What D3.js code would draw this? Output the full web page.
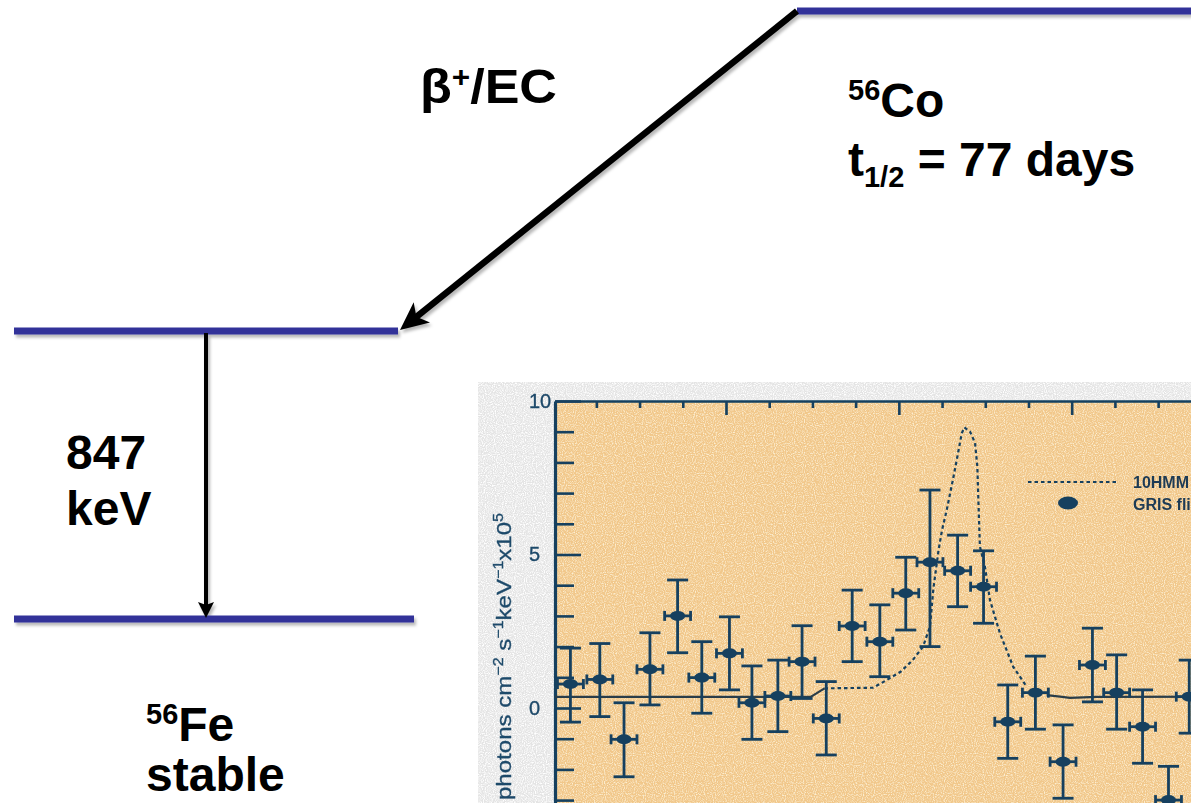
<!DOCTYPE html>
<html>
<head>
<meta charset="utf-8">
<script src="https://cdn.jsdelivr.net/npm/d3@7"></script>
<style>
  html, body { margin: 0; padding: 0; background: #ffffff; overflow: hidden; }
  svg { display: block; font-family: "Liberation Sans", Arial, Helvetica, sans-serif; }
</style>
</head>
<body>
<svg id="chart" width="1191" height="803"></svg>
<script>
// ---- Decay scheme of 56Co -> 56Fe ----
const feLevelEnergies = [0, 847];            // keV, levels of 56Fe
const gammaLineLabel = ["847", "keV"];
const parentLabel = ["56", "Co"];
const halfLife = ["t", "1/2", " = 77 days"];
const daughterLabel = ["56", "Fe"];
const daughterNote = "stable";
const decayMode = ["\u03B2", "+", "/EC"];

// ---- GRIS spectrum around the 847 keV line ----
const binEnergy = [821.0, 822.7, 824.1, 825.6, 827.2, 828.6, 830.2, 831.5, 833.0, 834.4,
                   835.8, 837.3, 838.9, 840.4, 841.8, 843.4, 844.9, 846.3, 847.9, 849.5,
                   851.2, 852.6, 854.1, 855.6, 856.8];
const binFlux = [0.78, 0.93, -1.02, 1.26, 3.00, 0.99, 1.78, 0.17, 0.39, 1.51,
                 -0.34, 2.67, 2.16, 3.74, 4.75, 4.47, 3.95, -0.45, 0.50, -1.75,
                 1.40, 0.50, -0.61, -3.00, 0.37];
const binFluxHigh = [1.95, 2.10, 0.17, 2.45, 4.17, 2.16, 2.97, 1.37, 1.56, 2.68,
                     0.86, 3.84, 3.36, 4.91, 7.10, 5.63, 5.12, 0.75, 1.69, -0.55,
                     2.60, 1.73, 0.59, -1.90, 1.56];
const binFluxLow = [-0.46, -0.28, -2.24, 0.10, 1.80, -0.17, 0.59, -1.02, -0.77, 0.31,
                    -1.53, 1.51, 1.02, 2.54, 2.00, 3.30, 2.76, -1.64, -0.69, -2.94,
                    0.20, -0.69, -1.80, -4.20, -0.82];
const binHalfWidth = 0.75;  // keV

// 10HMM model spectrum
const modelEnergy = [820.1, 834.9, 835.3, 835.7, 838.5, 839.3, 840.1, 840.8, 841.4, 841.8,
                     842.0, 842.3, 842.5, 842.77, 843.15, 843.35, 843.64, 843.79, 844.12, 844.41,
                     844.54, 844.60, 844.69, 844.98, 845.27, 845.85, 846.62, 847.40, 848.55, 849.9,
                     851.45, 860.5];
const modelFlux = [0.36, 0.36, 0.50, 0.64, 0.66, 0.91, 1.18, 1.56, 2.00, 2.65,
                   3.90, 5.15, 5.80, 6.45, 7.50, 8.08, 8.95, 9.14, 9.00, 8.63,
                   7.87, 6.78, 5.26, 4.60, 3.52, 2.43, 1.34, 0.69, 0.42, 0.33,
                   0.36, 0.37];
const modelDottedRange = [835.7, 847.2];

const yMajorTicks = [0, 5, 10];
const xMajorTicks = [830, 840, 850];
const legendLabels = ["10HMM", "GRIS flight"];
const yAxisLabel = [["photons cm", false], ["\u22122", true], [" s", false], ["\u22121", true],
                    ["keV", false], ["\u22121", true], ["x10", false], ["5", true]];

const svg = d3.select("#chart");
const defs = svg.append("defs");

const shadow = defs.append("filter").attr("id", "shadow")
  .attr("filterUnits", "userSpaceOnUse")
  .attr("x", 0).attr("y", 0).attr("width", 1191).attr("height", 803);
shadow.append("feDropShadow").attr("dx", 2).attr("dy", 3)
  .attr("stdDeviation", 1.6).attr("flood-color", "#000").attr("flood-opacity", 0.28);

function grainFilter(id, color, gain, bias, seed) {
  const f = defs.append("filter").attr("id", id)
    .attr("filterUnits", "userSpaceOnUse")
    .attr("x", 470).attr("y", 370).attr("width", 730).attr("height", 440);
  f.append("feTurbulence").attr("type", "fractalNoise").attr("baseFrequency", 0.9)
    .attr("numOctaves", 1).attr("seed", seed).attr("result", "noise");
  const c = d3.color(color);
  f.append("feColorMatrix").attr("in", "noise").attr("type", "matrix")
    .attr("values", `0 0 0 0 ${c.r/255} 0 0 0 0 ${c.g/255} 0 0 0 0 ${c.b/255} 0 0 0 ${gain} ${bias}`)
    .attr("result", "spots");
  f.append("feComposite").attr("in", "spots").attr("in2", "SourceAlpha").attr("operator", "in");
}
grainFilter("grainGrey", "#ffffff", 3.2, -1.3, 4);
grainFilter("grainTan", "#fff0c4", 3.0, -1.3, 9);
const soft = defs.append("filter").attr("id", "soft")
  .attr("filterUnits", "userSpaceOnUse")
  .attr("x", 470).attr("y", 370).attr("width", 730).attr("height", 440);
soft.append("feGaussianBlur").attr("stdDeviation", 0.4);

// arrow heads
defs.append("marker").attr("id", "headBig")
  .attr("markerUnits", "userSpaceOnUse").attr("orient", "auto")
  .attr("viewBox", "-2 -16 34 32").attr("markerWidth", 34).attr("markerHeight", 32)
  .attr("refX", 8).attr("refY", 0)
  .append("path").attr("d", "M0,-13 L28,0 L0,13 L7,0 Z").attr("fill", "#000");
defs.append("marker").attr("id", "headSmall")
  .attr("markerUnits", "userSpaceOnUse").attr("orient", "auto")
  .attr("viewBox", "-2 -10 20 20").attr("markerWidth", 20).attr("markerHeight", 20)
  .attr("refX", 4).attr("refY", 0)
  .append("path").attr("d", "M0,-8 L16,0 L0,8 L3,0 Z").attr("fill", "#000");

// ---------------- level diagram ----------------
const levelColor = "#333399";
const eY = d3.scaleLinear().domain(feLevelEnergies).range([619, 331]);
const parentY = 11;
const diagram = svg.append("g").attr("filter", "url(#shadow)");

diagram.append("line").attr("x1", 797).attr("x2", 1195)
  .attr("y1", parentY).attr("y2", parentY)
  .attr("stroke", levelColor).attr("stroke-width", 7);
diagram.append("line").attr("x1", 14).attr("x2", 398)
  .attr("y1", eY(847)).attr("y2", eY(847))
  .attr("stroke", levelColor).attr("stroke-width", 7);
diagram.append("line").attr("x1", 14).attr("x2", 414)
  .attr("y1", eY(0)).attr("y2", eY(0))
  .attr("stroke", levelColor).attr("stroke-width", 7);

// beta+/EC transition
{
  const x0 = 797, y0 = parentY, x1 = 400, y1 = eY(847) - 1;
  const len = Math.hypot(x1 - x0, y1 - y0);
  const ux = (x1 - x0) / len, uy = (y1 - y0) / len;
  diagram.append("line").attr("x1", x0).attr("y1", y0)
    .attr("x2", x1 - ux * 20).attr("y2", y1 - uy * 20)
    .attr("stroke", "#000").attr("stroke-width", 6.5)
    .attr("marker-end", "url(#headBig)");
}
// gamma transition
diagram.append("line").attr("x1", 206).attr("x2", 206)
  .attr("y1", eY(847) + 2).attr("y2", eY(0) - 1 - 12)
  .attr("stroke", "#000").attr("stroke-width", 4)
  .attr("marker-end", "url(#headSmall)");

const bigFont = 48, supFont = 29;
function label(x, y) {
  return svg.append("text").attr("x", x).attr("y", y)
    .attr("font-size", bigFont).attr("font-weight", "bold").attr("fill", "#000");
}
{
  const t = label(420, 103).attr("textLength", 137).attr("lengthAdjust", "spacingAndGlyphs");
  t.append("tspan").text(decayMode[0]);
  t.append("tspan").attr("font-size", supFont).attr("dy", -16).text(decayMode[1]);
  t.append("tspan").attr("dy", 16).text(decayMode[2]);
}
{
  const t = label(848, 117);
  t.append("tspan").attr("font-size", supFont).attr("dy", -17).text(parentLabel[0]);
  t.append("tspan").attr("dy", 17).text(parentLabel[1]);
  const h = label(848, 176);
  h.append("tspan").text(halfLife[0]);
  h.append("tspan").attr("font-size", supFont).attr("dy", 11).text(halfLife[1]);
  h.append("tspan").attr("dy", -11).text(halfLife[2]);
}
label(66, 469).text(gammaLineLabel[0]);
label(66, 525).text(gammaLineLabel[1]);
{
  const t = label(146, 741);
  t.append("tspan").attr("font-size", supFont).attr("dy", -17).text(daughterLabel[0]);
  t.append("tspan").attr("dy", 17).text(daughterLabel[1]);
  label(146, 791).text(daughterNote);
}

// ---------------- inset spectrum ----------------
const ink = "#15405f";
const inset = svg.append("g");
inset.append("rect").attr("x", 478).attr("y", 382).attr("width", 720).attr("height", 430)
  .attr("fill", "#e4e4e4");
inset.append("rect").attr("x", 478).attr("y", 382).attr("width", 720).attr("height", 430)
  .attr("fill", "#000").attr("filter", "url(#grainGrey)");

const x = d3.scaleLinear().domain([830, 850]).range([726, 1071.7]);
const y = d3.scaleLinear().domain([0, 10]).range([708, 401]);
const xMin = x.invert(555);
const plotLeft = x(xMin), plotTop = y(10);

inset.append("rect").attr("x", plotLeft).attr("y", plotTop)
  .attr("width", 700).attr("height", 430).attr("fill", "#f1c78a");
inset.append("rect").attr("x", plotLeft).attr("y", plotTop)
  .attr("width", 700).attr("height", 430)
  .attr("fill", "#000").attr("opacity", 0.8).attr("filter", "url(#grainTan)");

const plot = inset.append("g").attr("filter", "url(#soft)");

// axes
const yMinor = d3.range(-4, 10, 1).filter(v => !yMajorTicks.includes(v));
plot.append("g").attr("transform", `translate(${plotLeft},0)`)
  .call(d3.axisLeft(y).tickValues(yMinor).tickSize(-19).tickSizeOuter(0).tickFormat(""))
  .call(g => g.select(".domain").remove());
const yAx = plot.append("g").attr("transform", `translate(${plotLeft},0)`)
  .call(d3.axisLeft(y.copy().domain([-4, 10]).range([y(-4), y(10)]))
    .tickValues(yMajorTicks).tickSize(-26).tickSizeOuter(0).tickPadding(0));
yAx.select(".domain").attr("stroke-width", 3.2);
yAx.selectAll("text").attr("text-anchor", "start").attr("x", -26)
  .attr("font-size", 20).attr("fill", "#1f4a6a")
  .attr("stroke", "#1f4a6a").attr("stroke-width", 0.35);
yAx.selectAll(".tick text").filter(d => d === 10).attr("dy", "0.3em");

const xMinor = d3.range(822.5, 860, 2.5).filter(v => !xMajorTicks.includes(v));
plot.append("g").attr("transform", `translate(0,${plotTop})`)
  .call(d3.axisTop(x).tickValues(xMinor).tickSize(-7).tickSizeOuter(0).tickFormat(""))
  .call(g => g.select(".domain").remove());
const xAx = plot.append("g").attr("transform", `translate(0,${plotTop})`)
  .call(d3.axisTop(x.copy().domain([xMin, 862]).range([plotLeft, x(862)]))
    .tickValues(xMajorTicks).tickSize(-14).tickSizeOuter(0).tickFormat(""));
xAx.select(".domain").attr("stroke-width", 2.6);
plot.selectAll(".tick line").attr("stroke", ink).attr("stroke-width", 2.6);
plot.selectAll(".domain").attr("stroke", ink);

// model curve: solid outside the line region, dotted across the line
const model = modelEnergy.map((e, i) => ({ e, f: modelFlux[i] }));
const line = d3.line().x(d => x(d.e)).y(d => y(d.f));
const [d0, d1] = modelDottedRange;
const seg = (lo, hi) => model.filter(d => d.e >= lo && d.e <= hi);
plot.append("path").datum(seg(-Infinity, d0)).attr("d", line)
  .attr("fill", "none").attr("stroke", "#2c3e48").attr("stroke-width", 2.2);
plot.append("path").datum(seg(d0, d1 + 0.3)).attr("d", line)
  .attr("fill", "none").attr("stroke", ink).attr("stroke-width", 2.2)
  .attr("stroke-dasharray", "3.5,3");
plot.append("path").datum(seg(d1 + 0.2, Infinity)).attr("d", line)
  .attr("fill", "none").attr("stroke", "#2c3e48").attr("stroke-width", 2.2);

// data points with error bars
const pts = binEnergy.map((e, i) => ({ e, f: binFlux[i], hi: binFluxHigh[i], lo: binFluxLow[i] }));
const pg = plot.append("g").attr("stroke", ink).attr("stroke-width", 2.8).attr("fill", ink)
  .selectAll("g").data(pts).join("g");
pg.append("line").attr("x1", d => x(d.e)).attr("x2", d => x(d.e))
  .attr("y1", d => y(d.hi)).attr("y2", d => y(d.lo));
pg.append("line").attr("x1", d => x(d.e) - 10.5).attr("x2", d => x(d.e) + 10.5)
  .attr("y1", d => y(d.hi)).attr("y2", d => y(d.hi));
pg.append("line").attr("x1", d => x(d.e) - 10.5).attr("x2", d => x(d.e) + 10.5)
  .attr("y1", d => y(d.lo)).attr("y2", d => y(d.lo));
pg.append("line").attr("x1", d => Math.max(plotLeft, x(d.e - binHalfWidth)))
  .attr("x2", d => x(d.e + binHalfWidth))
  .attr("y1", d => y(d.f)).attr("y2", d => y(d.f));
pg.append("line").attr("x1", d => x(d.e - binHalfWidth)).attr("x2", d => x(d.e - binHalfWidth))
  .attr("y1", d => y(d.f) - 5).attr("y2", d => y(d.f) + 5)
  .attr("display", d => x(d.e - binHalfWidth) < plotLeft + 2 ? "none" : null);
pg.append("line").attr("x1", d => x(d.e + binHalfWidth)).attr("x2", d => x(d.e + binHalfWidth))
  .attr("y1", d => y(d.f) - 5).attr("y2", d => y(d.f) + 5);
pg.append("ellipse").attr("cx", d => x(d.e)).attr("cy", d => y(d.f))
  .attr("rx", 7.5).attr("ry", 5).attr("stroke", "none");

// legend
const lg = plot.append("g");
lg.append("line").attr("x1", 1028).attr("x2", 1117).attr("y1", 482).attr("y2", 482)
  .attr("stroke", ink).attr("stroke-width", 2).attr("stroke-dasharray", "3.5,3");
lg.append("ellipse").attr("cx", 1068).attr("cy", 503).attr("rx", 10).attr("ry", 6.5).attr("fill", ink);
lg.selectAll("text").data(legendLabels).join("text")
  .attr("x", 1133).attr("y", (d, i) => 488 + i * 22)
  .attr("font-size", 16).attr("font-weight", "bold").attr("fill", "#1e3b55")
  .text(d => d);

// y axis title
{
  const t = plot.append("text").attr("transform", "translate(511,800) rotate(-90)")
    .attr("font-size", 21).attr("fill", "#1f4a6a")
    .attr("stroke", "#1f4a6a").attr("stroke-width", 0.3)
    .attr("textLength", 287).attr("lengthAdjust", "spacingAndGlyphs");
  yAxisLabel.forEach(([s, sup], i) => {
    const prevSup = i > 0 && yAxisLabel[i - 1][1];
    const dy = sup ? -8 : (prevSup ? 8 : 0);
    t.append("tspan").attr("font-size", sup ? 14 : 21).attr("dy", dy).text(s);
  });
}
</script>
</body>
</html>
